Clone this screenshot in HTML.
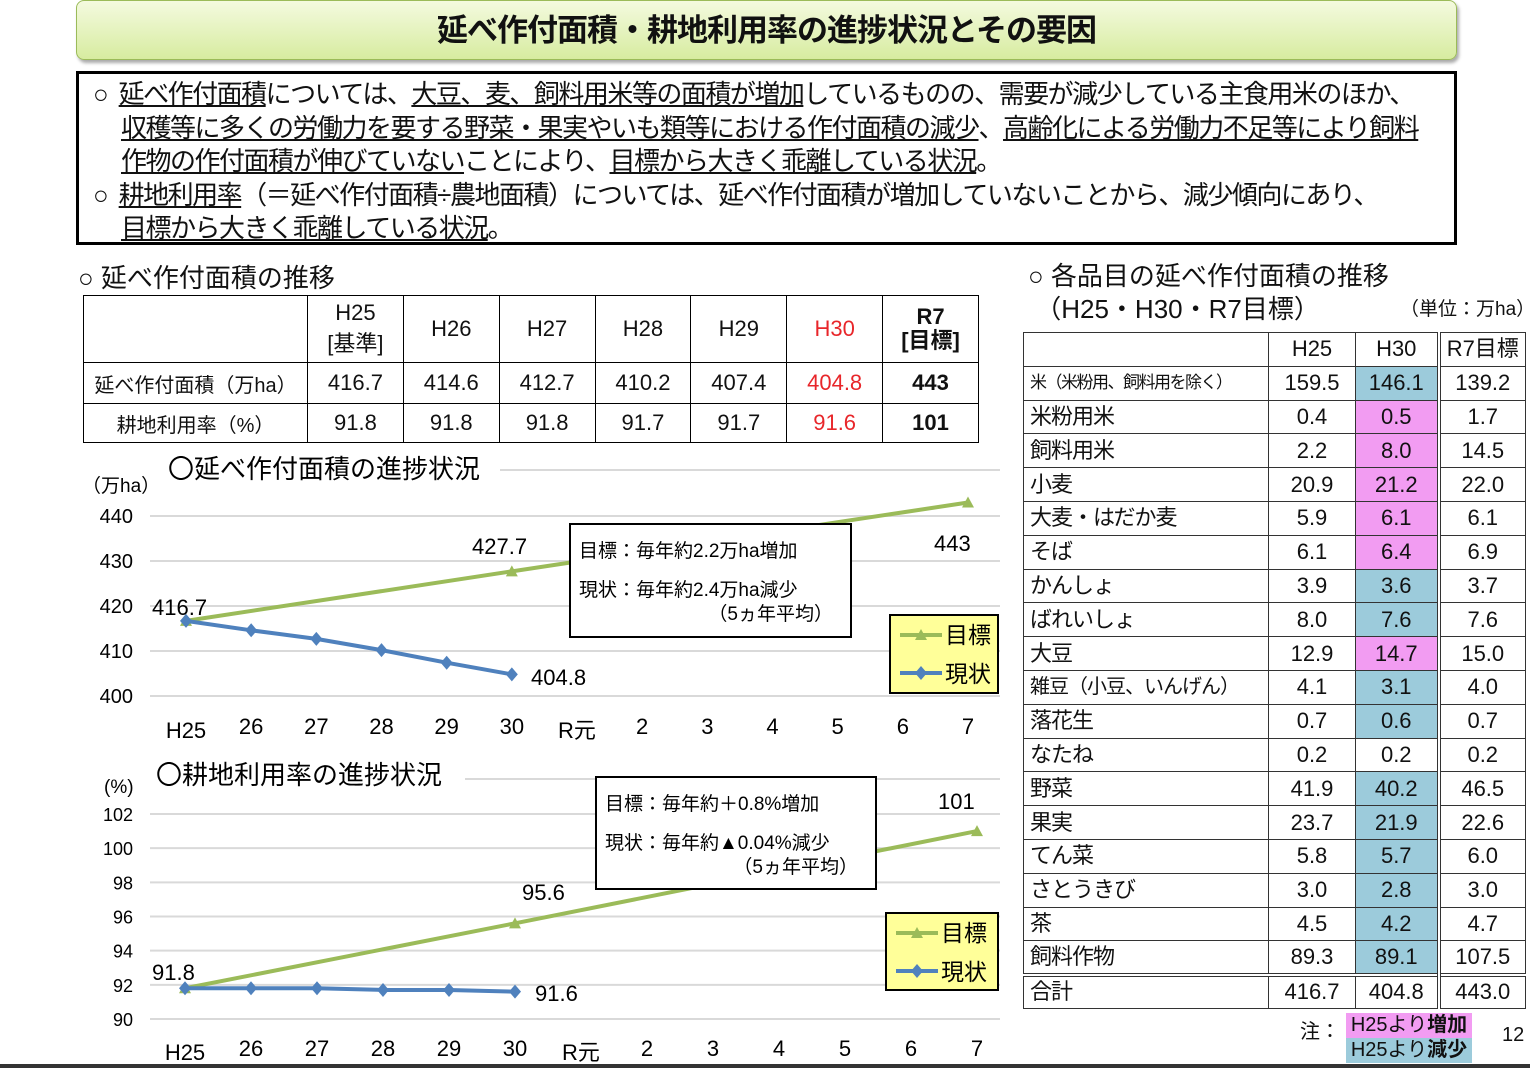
<!DOCTYPE html>
<html><head><meta charset="utf-8">
<style>
*{box-sizing:border-box;margin:0;padding:0}
body{width:1530px;height:1068px;background:#fff;position:relative;overflow:hidden;font-family:"Liberation Sans","Noto Sans CJK JP",sans-serif;color:#111}
.a{position:absolute}
.title{left:76px;top:0;width:1381px;height:60px;border:1px solid #9bbb59;border-radius:8px;background:linear-gradient(#f4fadf,#d7eca0);box-shadow:2px 3px 3px #aaa;text-align:center;font-size:31px;font-weight:bold;line-height:60px;letter-spacing:-1px}
.box{left:76px;top:71px;width:1381px;height:174px;border:3px solid #000;font-size:26px;line-height:33.5px;padding:4px 0 0 14px;letter-spacing:-1.5px;white-space:nowrap}
.box u{text-decoration:underline}
table{border-collapse:collapse;position:absolute;table-layout:fixed}
td{border:1.5px solid #000;text-align:center;font-size:22px;padding:0;white-space:nowrap;overflow:hidden}
.rt td{font-size:22px;border:1px solid #333;height:33.8px;line-height:30px}
.rt td.l{text-align:left;padding-left:6px;letter-spacing:-1px}
.bl{background:#9ccbdb}.pk{background:#f29cf2}
</style></head><body>
<div class="a title">延べ作付面積・耕地利用率の進捗状況とその要因</div>
<div class="a box">
<div>○ &nbsp;<u>延べ作付面積</u>については、<u>大豆、麦、飼料用米等の面積が増加</u>しているものの、需要が減少している主食用米のほか、</div>
<div style="padding-left:28px"><u>収穫等に多くの労働力を要する野菜・果実やいも類等における作付面積の減少</u>、<u>高齢化による労働力不足等により飼料</u></div>
<div style="padding-left:28px"><u>作物の作付面積が伸びていない</u>ことにより、<u>目標から大きく乖離している状況</u>。</div>
<div>○ &nbsp;<u>耕地利用率</u>（＝延べ作付面積÷農地面積）については、延べ作付面積が増加していないことから、減少傾向にあり、</div>
<div style="padding-left:28px"><u>目標から大きく乖離している状況</u>。</div>
</div>
<div class="a" style="left:78px;top:258px;font-size:26px">○ 延べ作付面積の推移</div>
<table class="lt" style="left:83px;top:295px;width:896px;height:147px">
<tr style="height:67px"><td style="width:224px"></td><td>H25<br>[基準]</td><td>H26</td><td>H27</td><td>H28</td><td>H29</td><td style="color:#e8262a">H30</td><td style="font-weight:bold;line-height:24px">R7<br>[目標]</td></tr>
<tr style="height:41px"><td style="font-size:20px">延べ作付面積（万ha）</td><td>416.7</td><td>414.6</td><td>412.7</td><td>410.2</td><td>407.4</td><td style="color:#e8262a">404.8</td><td style="font-weight:bold">443</td></tr>
<tr style="height:39px"><td style="font-size:20px">耕地利用率（%）</td><td>91.8</td><td>91.8</td><td>91.8</td><td>91.7</td><td>91.7</td><td style="color:#e8262a">91.6</td><td style="font-weight:bold">101</td></tr>
</table>

<div class="a" style="left:1028px;top:260px;font-size:26px;line-height:33px">○ 各品目の延べ作付面積の推移<br>&nbsp;（H25・H30・R7目標）</div>
<div class="a" style="left:1400px;top:294px;font-size:19px">（単位：万ha）</div>
<table class="rt" style="left:1023px;top:332px;width:502px" id="ct"></table>
<div class="a" style="left:1300px;top:1015px;font-size:20px">注：</div>
<div class="a pk" style="left:1346px;top:1013px;width:126px;height:25px;font-size:20px;text-align:center;line-height:25px">H25より<b>増加</b></div>
<div class="a bl" style="left:1346px;top:1038px;width:126px;height:25px;font-size:20px;text-align:center;line-height:25px">H25より<b>減少</b></div>
<div class="a" style="left:1502px;top:1024px;font-size:20px">12</div>
<div class="a" style="left:0;top:1064px;width:1530px;height:4px;background:#333"></div>

<svg class="a" style="left:0;top:0" width="1530" height="1068" id="ch"></svg>
<script>
const rowNames=["米（米粉用、飼料用を除く）","米粉用米","飼料用米","小麦","大麦・はだか麦","そば","かんしょ","ばれいしょ","大豆","雑豆（小豆、いんげん）","落花生","なたね","野菜","果実","てん菜","さとうきび","茶","飼料作物","合計"];
const h25=["159.5","0.4","2.2","20.9","5.9","6.1","3.9","8.0","12.9","4.1","0.7","0.2","41.9","23.7","5.8","3.0","4.5","89.3","416.7"];
const h30=["146.1","0.5","8.0","21.2","6.1","6.4","3.6","7.6","14.7","3.1","0.6","0.2","40.2","21.9","5.7","2.8","4.2","89.1","404.8"];
const r7=["139.2","1.7","14.5","22.0","6.1","6.9","3.7","7.6","15.0","4.0","0.7","0.2","46.5","22.6","6.0","3.0","4.7","107.5","443.0"];
const ct=document.getElementById('ct');
let hr=ct.insertRow();
[["",245],["H25",87],["H30",83],["R7目標",87]].forEach((c,i)=>{const td=hr.insertCell();td.textContent=c[0];td.style.width=c[1]+'px';if(i==3)td.style.borderLeft='4px double #333';});
rowNames.forEach((n,i)=>{const tr=ct.insertRow();


const a=tr.insertCell();a.textContent=n;a.className='l';if(i==0){a.style.fontSize='17px';a.style.letterSpacing='-1.5px';}
if(i==9)a.style.fontSize='20px';
const b=tr.insertCell();b.textContent=h25[i];
const c=tr.insertCell();c.textContent=h30[i];
if(i<18&&h30[i]!==h25[i])c.className=(+h30[i]>+h25[i])?'pk':'bl';
const d=tr.insertCell();d.textContent=r7[i];d.style.borderLeft='4px double #333';
if(i==18)[a,b,c,d].forEach(x=>x.style.borderTop='4px double #333');});

const years=["H25","26","27","28","29","30","R元","2","3","4","5","6","7"];
const areaActual=[416.7,414.6,412.7,410.2,407.4,404.8];
const areaTargetIdx=[0,5,12];const areaTarget=[416.7,427.7,443];
const areaTicks=[400,410,420,430,440];
const rateActual=[91.8,91.8,91.8,91.7,91.7,91.6];
const rateTarget=[91.8,95.6,101];
const rateTicks=[90,92,94,96,98,100,102];
const NS='http://www.w3.org/2000/svg';const svg=document.getElementById('ch');
function el(t,at,txt){const e=document.createElementNS(NS,t);for(const k in at)e.setAttribute(k,at[k]);if(txt!=null)e.textContent=txt;svg.appendChild(e);return e;}
function chart(o){
 const X=i=>o.x0+i*(o.x1-o.x0)/12, Y=v=>o.y0-(v-o.vmin)*(o.y0-o.y1)/(o.vmax-o.vmin);
 o.ticks.forEach(t=>{const g=el('line',{x1:150,x2:1000,y1:Y(t),y2:Y(t),stroke:'#d9d9d9','stroke-width':2});
  const l=el('text',{x:133,y:Y(t)+7,'text-anchor':'end','font-size':o.tfs},t);});
 el('line',{x1:o.titleEnd,x2:1000,y1:o.titleY,y2:o.titleY,stroke:'#d9d9d9','stroke-width':2});
 years.forEach((y,i)=>{const l=el('text',{x:X(i),y:o.xl,'text-anchor':'middle','font-size':22},y);if(i==0||i==6)l.setAttribute('y',o.xl+4);});
 const tp=o.tIdx.map((k,j)=>X(k)+','+Y(o.target[j])).join(' ');
 const tl=el('polyline',{points:tp,fill:'none',stroke:'#9bbb59','stroke-width':4});
 o.tIdx.forEach((k,j)=>{const m=el('path',{d:`M${X(k)-6},${Y(o.target[j])+5}L${X(k)},${Y(o.target[j])-6}L${X(k)+6},${Y(o.target[j])+5}Z`,fill:'#9bbb59'});});
 const ap=o.actual.map((v,i)=>X(i)+','+Y(v)).join(' ');
 const al=el('polyline',{points:ap,fill:'none',stroke:'#4f81bd','stroke-width':4});
 o.actual.forEach((v,i)=>{const m=el('path',{d:`M${X(i)},${Y(v)-7}L${X(i)+6},${Y(v)}L${X(i)},${Y(v)+7}L${X(i)-6},${Y(v)}Z`,fill:'#4f81bd'});});
 return {X,Y};
}
const c1=chart({x0:186,x1:968,y0:696,y1:516,vmin:400,vmax:440,ticks:areaTicks,tfs:20,xl:734,titleEnd:500,titleY:470,actual:areaActual,target:areaTarget,tIdx:areaTargetIdx});
const c2=chart({x0:185,x1:977,y0:1019,y1:814,vmin:90,vmax:102,ticks:rateTicks,tfs:18,xl:1056,titleEnd:465,titleY:779,actual:rateActual,target:rateTarget,tIdx:areaTargetIdx});
function txt(x,y,s,fs,a,n){const t=el('text',{x:x,y:y,'font-size':fs,'text-anchor':a||'start'},s);}
txt(168,478,'〇延べ作付面積の進捗状況',26,'start','chart1-title');txt(82,492,'（万ha）',19,'start','chart1-unit');
txt(152,615,areaActual[0],22,'start','value-label');txt(472,554,areaTarget[1],22,'start','value-label');txt(531,685,areaActual[5],22,'start','value-label');txt(934,551,areaTarget[2],22,'start','value-label');
txt(156,784,'〇耕地利用率の進捗状況',26,'start','chart2-title');txt(104,793,'(%)',19,'start','chart2-unit');
txt(152,980,rateActual[0],22,'start','value-label');txt(522,900,rateTarget[1],22,'start','value-label');txt(535,1001,rateActual[5],22,'start','value-label');txt(938,809,rateTarget[2],22,'start','value-label');
function box(x,y,w,h,l1,l2){el('rect',{x:x,y:y,width:w,height:h,fill:'#fff',stroke:'#000','stroke-width':2});
 txt(x+9,y+33,l1,19,'start','annotation-target');txt(x+9,y+72,l2,19,'start','annotation-actual');txt(x+w-18,y+96,'（5ヵ年平均）',19,'end','annotation-note');}
box(570,524,281,113,'目標：毎年約2.2万ha増加','現状：毎年約2.4万ha減少');
box(596,777,280,112,'目標：毎年約＋0.8%増加','現状：毎年約▲0.04%減少');
function leg(x,y,w,h){el('rect',{x:x,y:y,width:w,height:h,fill:'#ffff99',stroke:'#000','stroke-width':2});
 el('line',{x1:x+10,x2:x+52,y1:y+20,y2:y+20,stroke:'#9bbb59','stroke-width':4});el('path',{d:`M${x+25},${y+25}L${x+31},${y+14}L${x+37},${y+25}Z`,fill:'#9bbb59'});
 txt(x+55,y+28,'目標',23,'start','legend-target');
 el('line',{x1:x+10,x2:x+52,y1:y+58,y2:y+58,stroke:'#4f81bd','stroke-width':4});el('path',{d:`M${x+31},${y+51}L${x+37},${y+58}L${x+31},${y+65}L${x+25},${y+58}Z`,fill:'#4f81bd'});
 txt(x+55,y+67,'現状',23,'start','legend-actual');}
leg(890,615,108,78);leg(886,913,112,77);
</script>
</body></html>
